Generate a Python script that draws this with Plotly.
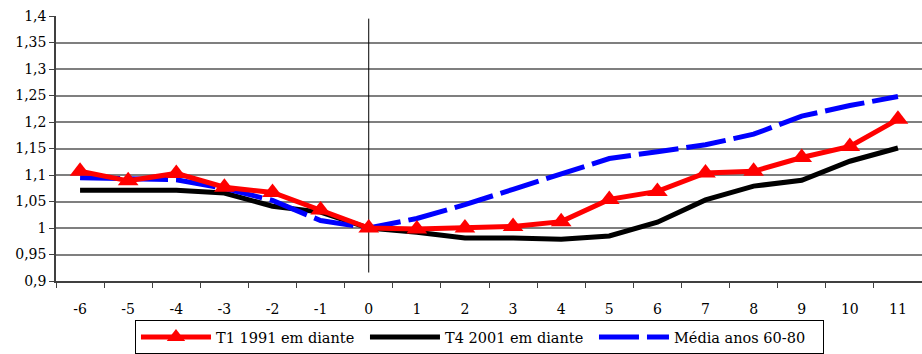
import plotly.graph_objects as go

# ---- data ----
periods = ["-6", "-5", "-4", "-3", "-2", "-1", "0", "1", "2", "3", "4", "5", "6", "7", "8", "9", "10", "11"]
t1_1991 = [1.107, 1.089, 1.103, 1.077, 1.067, 1.034, 1.0, 0.998, 1.0, 1.003, 1.012, 1.054, 1.069, 1.104, 1.107, 1.133, 1.154, 1.205]
t4_2001 = [1.071, 1.070, 1.071, 1.066, 1.041, 1.030, 1.0, 0.992, 0.981, 0.981, 0.979, 0.985, 1.011, 1.053, 1.079, 1.090, 1.126, 1.151]
media_60_80 = [1.095, 1.092, 1.091, 1.075, 1.052, 1.014, 1.0, 1.018, 1.044, 1.073, 1.103, 1.131, 1.144, 1.157, 1.177, 1.211, 1.231, 1.248]
names = ["T1 1991 em diante", "T4 2001 em diante", "Média anos 60-80"]

y_ticks = [0.9, 0.95, 1.0, 1.05, 1.1, 1.15, 1.2, 1.25, 1.3, 1.35, 1.4]
y_tick_labels = ["0,9", "0,95", "1", "1,05", "1,1", "1,15", "1,2", "1,25", "1,3", "1,35", "1,4"]

vline_x = ["0", "0"]
vline_y = [0.916, 1.395]

FONT = "DejaVu Serif"

fig = go.Figure()

fig.add_trace(go.Scatter(
    x=vline_x, y=vline_y, mode="lines",
    line=dict(color="black", width=1), showlegend=False, hoverinfo="skip"))

fig.add_trace(go.Scatter(
    x=periods, y=t4_2001, name=names[1], mode="lines",
    line=dict(color="#000000", width=5), legendrank=2))

fig.add_trace(go.Scatter(
    x=periods, y=media_60_80, name=names[2], mode="lines",
    line=dict(color="#0000FF", width=5, dash="40px,8px"), legendrank=3))

fig.add_trace(go.Scatter(
    x=periods, y=t1_1991, name=names[0], mode="lines+markers",
    line=dict(color="#FF0000", width=5),
    marker=dict(symbol="triangle-up", size=18, color="#FF0000"),
    legendrank=1))

fig.update_layout(
    width=922, height=354,
    margin=dict(l=56, r=0, t=16, b=71),
    paper_bgcolor="white", plot_bgcolor="white",
    font=dict(family=FONT, size=14, color="black"),
    showlegend=True,
    legend=dict(
        orientation="h", x=0.0912, xanchor="left", y=-0.147, yanchor="top",
        bordercolor="black", borderwidth=1, bgcolor="white",
        font=dict(family=FONT, size=14.5, color="black"),
        itemwidth=70, tracegroupgap=0, entrywidth=144,
    ),
    hovermode=False,
)

fig.update_xaxes(
    type="category", categoryorder="array", categoryarray=periods,
    range=[-0.5, len(periods) - 0.5],
    tickson="boundaries", ticks="outside", ticklen=5, tickwidth=1, tickcolor="#404040",
    showline=True, linecolor="#404040", linewidth=1.5,
    showgrid=False, zeroline=False,
    ticklabelstandoff=14,
    tickfont=dict(family=FONT, size=14, color="black"),
)

fig.update_yaxes(
    range=[0.9, 1.4], tickvals=y_ticks, ticktext=y_tick_labels,
    ticks="outside", ticklen=5, tickwidth=1, tickcolor="#404040",
    showline=True, linecolor="#404040", linewidth=1.5,
    showgrid=True, gridcolor="#7f7f7f", gridwidth=1.5,
    zeroline=False,
    tickfont=dict(family=FONT, size=14, color="black"),
)

fig.write_html("out.html", config={"displayModeBar": False})
